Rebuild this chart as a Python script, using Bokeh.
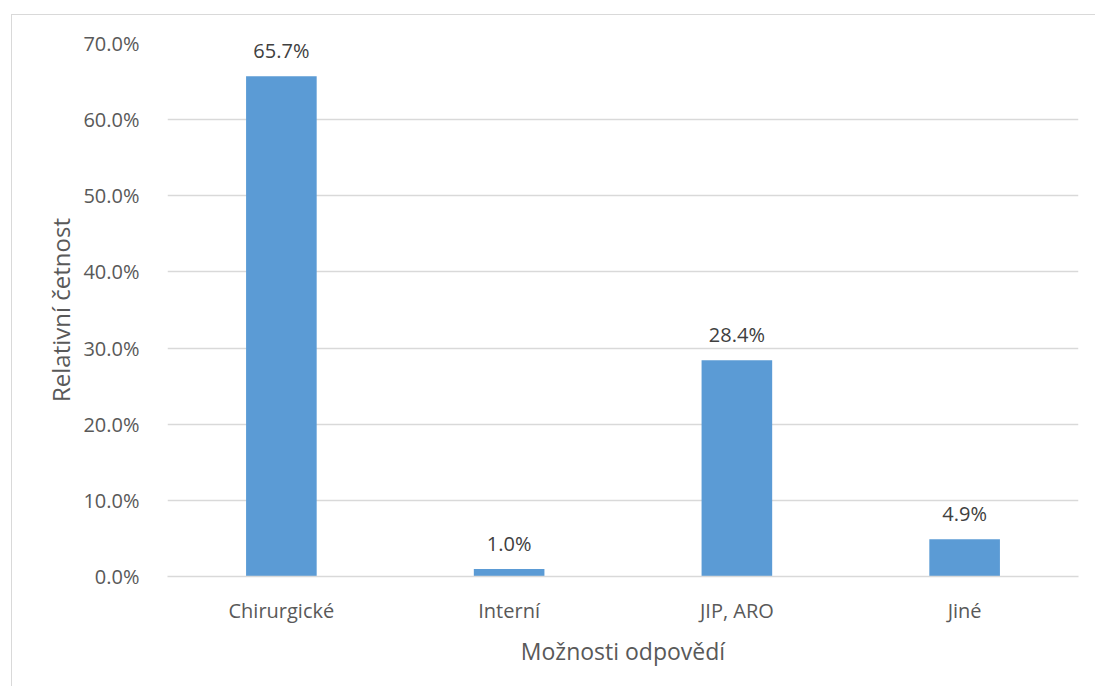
from bokeh.plotting import figure
from bokeh.models import ColumnDataSource, NumeralTickFormatter, FixedTicker, FactorRange, Range1d
from bokeh.core.properties import value
from bokeh.embed import file_html
from bokeh.resources import INLINE

categories = ["Chirurgické", "Interní", "JIP, ARO", "Jiné"]
shares = [0.657, 0.010, 0.284, 0.049]
y_ticks = [0.0, 0.1, 0.2, 0.3, 0.4, 0.5, 0.6, 0.7]

labels = [f"{v * 100:.1f}%" for v in shares]
src = ColumnDataSource(dict(cat=categories, val=shares, label=labels))

FONT = "Open Sans"
TEXT = "#595959"
GRID = "#d9d9d9"

p = figure(
    x_range=FactorRange(*categories, range_padding=0),
    y_range=Range1d(0, 0.7),
    width=1084, height=672,
    output_backend="svg", toolbar_location=None,
    min_border_left=155, min_border_right=18,
    min_border_top=28, min_border_bottom=111,
)
p.margin = (14, 0, 0, 11)
p.styles = {"border-left": f"1px solid {GRID}", "border-top": f"1px solid {GRID}"}
p.outline_line_color = None
p.background_fill_color = "white"
p.border_fill_color = "white"

p.vbar(x="cat", top="val", width=0.31, source=src, color="#5b9bd5", line_color=None)

p.text(x="cat", y="val", text="label", source=src, y_offset=-12,
       text_align="center", text_baseline="bottom",
       text_font=value(FONT), text_font_size="20px", text_color="#404040")

p.xgrid.visible = False
p.ygrid.grid_line_color = GRID
p.ygrid.grid_line_width = 1.3

p.yaxis.ticker = FixedTicker(ticks=y_ticks)
p.yaxis.formatter = NumeralTickFormatter(format="0.0%")
p.yaxis.axis_line_color = None
p.yaxis.major_tick_line_color = None
p.yaxis.minor_tick_line_color = None
p.yaxis.major_label_standoff = 22
p.yaxis.axis_label = "Relativní četnost"
p.yaxis.axis_label_standoff = 3

p.xaxis.axis_line_color = GRID
p.xaxis.axis_line_width = 1.3
p.xaxis.major_tick_line_color = None
p.xaxis.minor_tick_line_color = None
p.xaxis.major_label_standoff = 14
p.xaxis.axis_label = "Možnosti odpovědí"
p.xaxis.axis_label_standoff = 8

for ax in (p.xaxis[0], p.yaxis[0]):
    ax.major_label_text_font = FONT
    ax.major_label_text_font_size = "20px"
    ax.major_label_text_color = TEXT
    ax.axis_label_text_font = FONT
    ax.axis_label_text_font_size = "23px"
    ax.axis_label_text_font_style = "normal"
    ax.axis_label_text_color = TEXT
p.yaxis.axis_label_text_font_size = "24px"

open("out.html", "w").write(file_html(p, INLINE))
